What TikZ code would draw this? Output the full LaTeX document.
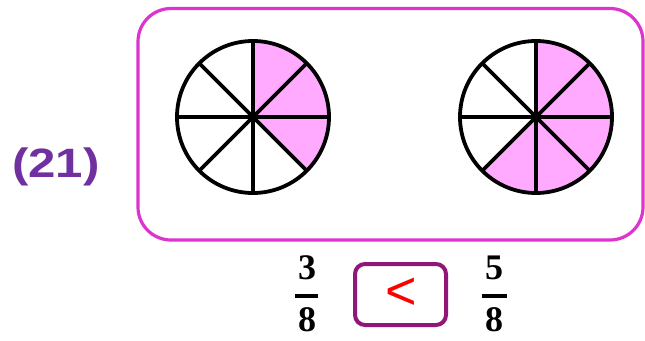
\documentclass[tikz,border=0pt]{standalone}
\usepackage{fontspec}
\usetikzlibrary{calc}
\newfontfamily\labfont[FakeStretch=1.2]{Liberation Sans}
\newfontfamily\fracfont{Liberation Serif}
\newfontfamily\signfont{Liberation Sans}
\definecolor{boxmag}{RGB}{222,52,206}
\definecolor{pinkfill}{RGB}{255,170,255}
\definecolor{labpurple}{RGB}{112,48,160}
\definecolor{signbox}{RGB}{146,22,122}
\definecolor{signred}{RGB}{255,0,0}
\tikzset{
  outerbox/.style={draw=boxmag, line width=3.2pt, rounded corners=33pt},
  sector/.style={fill=pinkfill},
  wheel/.style={draw=black, line width=3.8pt},
  fracnum/.style={font=\fracfont\bfseries\fontsize{36}{38}\selectfont, inner sep=0pt},
  fracbar/.style={line width=4pt},
  cmpbox/.style={draw=signbox, line width=4pt, rounded corners=10pt, minimum width=91pt, minimum height=61pt, inner sep=0pt},
  cmpsign/.style={font=\signfont\fontsize{54}{56}\selectfont, text=signred, inner sep=0pt},
  numlabel/.style={font=\labfont\bfseries\fontsize{41}{43}\selectfont, text=labpurple, inner sep=0pt}
}
\begin{document}
\begin{tikzpicture}[x=1pt,y=-1pt]
\useasboundingbox (0,0) rectangle (645,340);
\fill[white] (0,0) rectangle (645,340);
% outer box
\draw[outerbox] (138,8.5) rectangle (643,240);
% label
\node[numlabel] (lab) at (56,167) {(21)};
% left wheel
\coordinate (c1) at (253,117);
\fill[sector] (c1) -- ++(-90:76) arc[start angle=-90, end angle=45, radius=76] -- cycle;
\draw[wheel] (c1) circle[radius=76];
\foreach \a in {0,45,90,135} {
  \draw[wheel] ($(c1)+(\a:76)$) -- ($(c1)+(\a+180:76)$);
}
% right wheel
\coordinate (c2) at (536,117);
\fill[sector] (c2) -- ++(-90:76) arc[start angle=-90, end angle=135, radius=76] -- cycle;
\draw[wheel] (c2) circle[radius=76];
\foreach \a in {0,45,90,135} {
  \draw[wheel] ($(c2)+(\a:76)$) -- ($(c2)+(\a+180:76)$);
}
% fractions
\node[fracnum] (n1) at (307,268) {3};
\node[fracnum] (d1) at (307,319.5) {8};
\coordinate (b1l) at (295,296);
\coordinate (b1r) at (318,296);
\draw[fracbar] (b1l) -- (b1r);
\node[fracnum] (n2) at (494,268) {5};
\node[fracnum] (d2) at (494,319.5) {8};
\coordinate (b2l) at (482,296);
\coordinate (b2r) at (507,296);
\draw[fracbar] (b2l) -- (b2r);
% comparison box
\node[cmpbox] (cmp) at (400.5,294.5) {};
\node[cmpsign] (sign) at (401,294) {<};
\end{tikzpicture}
\end{document}
